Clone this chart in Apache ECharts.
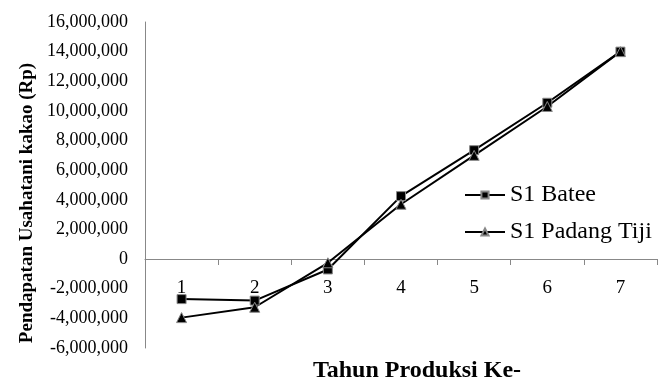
<!DOCTYPE html>
<html><head><meta charset="utf-8">
<script src="https://cdn.jsdelivr.net/npm/echarts@6/dist/echarts.min.js"></script>
<style>html,body{margin:0;padding:0;background:#fff}#c{width:672px;height:380px}</style>
</head><body><div id="c"></div>
<script>
const categories = ['1','2','3','4','5','6','7'];
const batee = [-2700000, -2800000, -700000, 4250000, 7350000, 10550000, 14000000];
const padangTiji = [-3950000, -3250000, -250000, 3700000, 7000000, 10300000, 14000000];
const seriesNames = ['S1 Batee', 'S1 Padang Tiji'];
const font = '"Liberation Serif", "Times New Roman", serif';
const chart = echarts.init(document.getElementById('c'));
chart.setOption({
  animation: false,
  backgroundColor: '#fff',
  grid: {left: 145, top: 22, right: 15, bottom: 32, containLabel: false, outerBoundsMode: 'none'},
  legend: {
    orient: 'vertical', left: 459, top: 178, itemGap: 13, itemWidth: 40, itemHeight: 9,
    textStyle: {fontFamily: font, fontSize: 24, color: '#000'},
    data: seriesNames
  },
  xAxis: {
    type: 'category', data: categories, boundaryGap: true, position: 'bottom', offset: -89,
    name: 'Tahun Produksi Ke-', nameLocation: 'middle', nameGap: 100,
    nameTextStyle: {fontFamily: font, fontSize: 24, fontWeight: 'bold', color: '#000', verticalAlign: 'top', padding: [0, 0, 0, 32]},
    axisLine: {onZero: false, lineStyle: {color: '#888', width: 1}},
    axisTick: {show: true, length: 6, inside: false, lineStyle: {color: '#888', width: 1}},
    axisLabel: {fontFamily: font, fontSize: 19, color: '#000', margin: 20},
    splitLine: {show: false}
  },
  yAxis: {
    type: 'value', min: -6000000, max: 16000000, interval: 2000000,
    name: 'Pendapatan Usahatani kakao (Rp)', nameLocation: 'middle', nameGap: 108,
    nameTextStyle: {fontFamily: font, fontSize: 19, fontWeight: 'bold', color: '#000', padding: [0, 36, 0, 0]},
    axisLine: {show: true, lineStyle: {color: '#888', width: 1}},
    axisTick: {show: false},
    axisLabel: {fontFamily: font, fontSize: 18, color: '#000', margin: 17,
      formatter: v => v === 0 ? '0' : v.toLocaleString('en-US')},
    splitLine: {show: false}
  },
  series: [
    {name: seriesNames[0], type: 'line', data: batee, symbol: 'rect', symbolSize: 9,
     lineStyle: {color: '#000', width: 2},
     itemStyle: {color: '#000', borderColor: '#888', borderWidth: 1}},
    {name: seriesNames[1], type: 'line', data: padangTiji, symbol: 'triangle', symbolSize: 10,
     lineStyle: {color: '#000', width: 2},
     itemStyle: {color: '#000', borderColor: '#888', borderWidth: 1}}
  ]
});
</script></body></html>
